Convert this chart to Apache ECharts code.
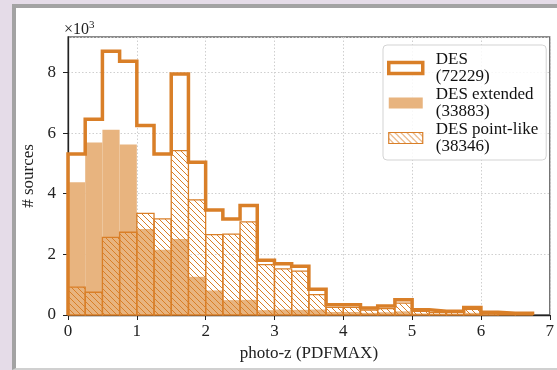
<!DOCTYPE html>
<html><head><meta charset="utf-8">
<script src="https://cdn.jsdelivr.net/npm/echarts@6/dist/echarts.min.js"></script>
<style>
html,body{margin:0;padding:0;background:#e5dce8;width:557px;height:370px;overflow:hidden;}
#panel{position:absolute;left:12px;top:4px;width:560px;height:360px;background:#fff;border-left:4px solid #a3a3a3;border-top:4px solid #a3a3a3;border-bottom:2px solid #d0d0d0;}
#chart{position:absolute;left:0;top:0;width:557px;height:370px;}
</style></head><body>
<div id="panel"></div><div id="chart"></div>
<script>
// Bin edges of the photo-z histogram (width 0.25)
const binEdges = [0,0.25,0.5,0.75,1,1.25,1.5,1.75,2,2.25,2.5,2.75,3,3.25,3.5,3.75,4,4.25,4.5,4.75,5,5.25,5.5,5.75,6,6.25,6.5,6.75];
// Counts per bin
const desTotal    = [5310,6460,8700,8370,6250,5310,7950,5040,3460,3170,3610,1810,1690,1610,850,340,340,230,300,500,170,120,120,250,90,60,60];
const desExtended = [4380,5690,6110,5620,2840,2150,2510,1260,810,490,500,160,180,170,180,100,100,70,90,120,50,40,40,70,30,20,20];
const desPoint    = [920,750,2560,2730,3350,3170,5420,3800,2650,2670,3070,1660,1520,1450,670,250,250,160,210,390,120,80,80,190,60,40,40];
const seriesNames = ['DES','DES extended','DES point-like'];
const seriesCounts = ['72229','33883','38346'];
const xTicks = [0,1,2,3,4,5,6,7];
const yTicks = [0,2000,4000,6000,8000];

const ORANGE = '#d97f28';
const EXT = '#e8b47f';
const FONT = 'Liberation Serif';
const FS = 17;

// hatch pattern
const pc = document.createElement('canvas');
pc.width = 6; pc.height = 6;
const ctx = pc.getContext('2d');
ctx.strokeStyle = ORANGE; ctx.lineWidth = 1;
ctx.beginPath();
ctx.moveTo(-1,-1); ctx.lineTo(7,7);
ctx.moveTo(-1,5); ctx.lineTo(1,7);
ctx.moveTo(5,-1); ctx.lineTo(7,1);
ctx.stroke();
const hatch = {image: pc, repeat: 'repeat'};

function binData(vals){ return vals.map((v,i)=>[binEdges[i], binEdges[i+1], v]); }
function makeRender(style){
  return function(params, api){
    const p0 = api.coord([api.value(0), 0]);
    const p1 = api.coord([api.value(1), api.value(2)]);
    return {type:'rect', shape:{x:p0[0], y:p1[1], width:p1[0]-p0[0], height:p0[1]-p1[1]}, style: Object.assign({}, style)};
  };
}
const stepPts = [[binEdges[0],0]];
desTotal.forEach((v,i)=>{ stepPts.push([binEdges[i],v]); stepPts.push([binEdges[i+1],v]); });
stepPts.push([binEdges[binEdges.length-1],0]);

const chart = echarts.init(document.getElementById('chart'), null, {renderer:'canvas'});
chart.setOption({
  animation:false,
  backgroundColor:'transparent',
  textStyle:{fontFamily:FONT},
  grid:{left:68, right:4, top:37, bottom:55, show:true, borderColor:'#666', borderWidth:1.3, backgroundColor:'transparent'},
  xAxis:{type:'value', min:xTicks[0], max:xTicks[xTicks.length-1], interval:1,
    name:'photo-z (PDFMAX)', nameLocation:'middle', nameGap:28,
    nameTextStyle:{fontFamily:FONT, fontSize:FS, color:'#222'},
    axisLine:{show:true, onZero:false, lineStyle:{color:'#222', width:1.3}},
    axisTick:{show:true, length:5, lineStyle:{color:'#222'}},
    axisLabel:{fontFamily:FONT, fontSize:FS, color:'#222', margin:8},
    splitLine:{show:true, lineStyle:{color:'#cfcfcf', type:[1.5,2], width:1}}},
  yAxis:{type:'value', min:0, max:9170, interval:2000,
    name:'# sources', nameLocation:'middle', nameGap:29,
    nameTextStyle:{fontFamily:FONT, fontSize:17, color:'#222'},
    axisLine:{show:true, lineStyle:{color:'#222', width:1.3}},
    axisTick:{show:true, length:5, lineStyle:{color:'#222'}},
    axisLabel:{fontFamily:FONT, fontSize:FS, color:'#222', margin:12, showMaxLabel:false,
      formatter:v=> yTicks.indexOf(v)>=0 ? String(v/1000) : ''},
    splitLine:{show:true, lineStyle:{color:'#cfcfcf', type:[1.5,2], width:1}}},
  legend:{orient:'vertical', left:383, top:45, width:165,
    padding:[6,8,5,4], backgroundColor:'rgba(255,255,255,0.85)', borderColor:'#d3d3d3', borderWidth:1, borderRadius:4,
    itemWidth:34, itemHeight:11, itemGap:1,
    textStyle:{fontFamily:FONT, fontSize:FS, lineHeight:17, color:'#111', padding:[0,0,0,8]},
    formatter:name=> name + '\n(' + seriesCounts[seriesNames.indexOf(name)] + ')',
    data:[
      {name:seriesNames[0], icon:'rect', itemStyle:{color:'#fff', borderColor:ORANGE, borderWidth:3.5}},
      {name:seriesNames[1], icon:'rect', itemStyle:{color:EXT, borderWidth:0}},
      {name:seriesNames[2], icon:'rect', itemStyle:{color:hatch, borderColor:ORANGE, borderWidth:1.2}}
    ]},
  graphic:[{type:'text', left:64, top:20, style:{text:'{a|×10}{b|3}', rich:{a:{fontFamily:FONT, fontSize:16, fill:'#222'}, b:{fontFamily:FONT, fontSize:11, fill:'#222', verticalAlign:'top', padding:[0,0,9,0]}}}}],
  series:[
    {name:seriesNames[1], type:'custom', renderItem:makeRender({fill:EXT}), data:binData(desExtended), encode:{x:[0,1], y:2}, z:2, itemStyle:{color:EXT}},
    {name:seriesNames[2], type:'custom', renderItem:makeRender({fill:hatch, stroke:ORANGE, lineWidth:1.3}), data:binData(desPoint), encode:{x:[0,1], y:2}, z:3, itemStyle:{color:ORANGE}},
    {name:seriesNames[0], type:'line', data:stepPts, symbol:'none', z:4, clip:false,
      lineStyle:{color:ORANGE, width:3.5, join:'miter'}, itemStyle:{color:ORANGE}}
  ]
});
</script></body></html>
